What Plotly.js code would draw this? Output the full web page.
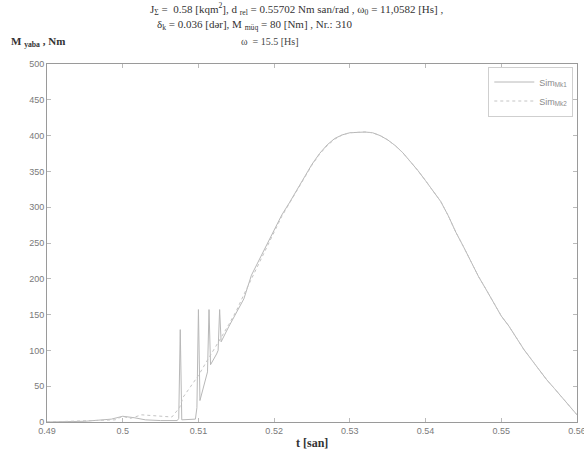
<!DOCTYPE html>
<html><head><meta charset="utf-8">
<script src="https://cdn.plot.ly/plotly-3.0.1.min.js"></script>
<style>html,body{margin:0;padding:0;background:#fff}#chart{width:584px;height:457px}</style>
</head><body><div id="chart"></div>
<script>
// Sim_Mk1 (solid) — time [s] and moment [Nm]
const tMk1 = [0.49,0.495,0.4985,0.5,0.5015,0.503,0.505,0.5072,0.5074,0.5076,0.5078,0.5096,0.5098,0.5100,0.5102,0.5110,0.5112,0.5114,0.5116,0.5124,0.5126,0.5128,0.513,0.514,0.515,0.516,0.517,0.518,0.519,0.520,0.521,0.522,0.523,0.524,0.525,0.526,0.527,0.528,0.529,0.530,0.531,0.532,0.533,0.534,0.535,0.536,0.537,0.538,0.539,0.540,0.541,0.542,0.543,0.544,0.545,0.546,0.547,0.548,0.549,0.550,0.551,0.552,0.553,0.554,0.555,0.556,0.557,0.558,0.559,0.560];
const vMk1 = [0,1,4,8,6,3,2,2,5,129,3,4,20,157,30,60,70,157,80,95,100,157,112,133,152,172,205,226,247,268,289,306,324,343,360,375,387,396,401,404,405,405,404,400,394,386,376,364,351,337,323,308,288,265,245,224,203,185,167,148,134,117,101,87,73,59,47,35,22,10];
// Sim_Mk2 (dashed)
const tMk2 = [0.49,0.499,0.5,0.501,0.5025,0.5045,0.5065,0.5075,0.508,0.509,0.510,0.511,0.512,0.513,0.514,0.515,0.516,0.517,0.518,0.519,0.520,0.521,0.522,0.523,0.524,0.525,0.526,0.527,0.528,0.529,0.530,0.531,0.532,0.533,0.534,0.535,0.536,0.537,0.538,0.539,0.540,0.541,0.542,0.543,0.544,0.545,0.546,0.547,0.548,0.549,0.550,0.551,0.552,0.553,0.554,0.555,0.556,0.557,0.558,0.559,0.560];
const vMk2 = [0,3,8,5,10,9,7,20,35,50,65,83,100,118,136,155,178,200,222,245,266,287,305,323,342,359,374,386,395,401,404,405,405,404,400,394,386,376,364,351,337,323,308,288,265,245,224,203,185,167,148,134,117,101,87,73,59,47,35,22,10];
const seriesNames = ['Sim<sub>Mk1</sub>','Sim<sub>Mk2</sub>'];
const xTicks = [0.49,0.5,0.51,0.52,0.53,0.54,0.55,0.56];
const xTickText = ['0.49','0.5','0.51','0.52','0.53','0.54','0.55','0.56'];
const yTicks = [0,50,100,150,200,250,300,350,400,450,500];

const traces = [
  {x:tMk1,y:vMk1,type:'scatter',mode:'lines',name:seriesNames[0],line:{color:'#b8b8b8',width:1}},
  {x:tMk2,y:vMk2,type:'scatter',mode:'lines',name:seriesNames[1],line:{color:'#c4c4c4',width:1,dash:'dot'}}
];
const axCommon = {showgrid:false,zeroline:false,showline:true,linecolor:'#9a9a9a',linewidth:1,mirror:'ticks',
  ticks:'inside',ticklen:4,tickcolor:'#bbb',tickfont:{family:'Liberation Sans, Arial',size:9,color:'#7a7a7a'}};
const layout = {
  width:584,height:457,paper_bgcolor:'#fff',plot_bgcolor:'#fff',
  margin:{l:47,r:7,t:64,b:35},
  showlegend:true,
  legend:{x:0.993,y:0.993,xanchor:'right',yanchor:'top',bgcolor:'#fff',bordercolor:'#cfcfcf',borderwidth:1,
    font:{family:'Liberation Sans, Arial',size:9,color:'#8a8a8a'},itemwidth:40,tracegroupgap:0},
  xaxis:Object.assign({},axCommon,{range:[0.49,0.5600001],tickmode:'array',tickvals:xTicks,ticktext:xTickText,ticklabeloverflow:'allow'}),
  yaxis:Object.assign({},axCommon,{range:[0,500],tickmode:'array',tickvals:yTicks}),
  annotations:[
    {xref:'paper',yref:'paper',x:0.19,y:1,yshift:55,xanchor:'left',yanchor:'middle',showarrow:false,
     text:'J<sub>Σ</sub> =  0.58 [kqm<sup>2</sup>], d <sub>rel</sub> = 0.55702 Nm san/rad , ω<sub>0</sub> = 11,0582 [Hs] ,',
     font:{family:'Liberation Serif, Times New Roman',size:11,color:'#333'}},
    {xref:'paper',yref:'paper',x:0.204,y:1,yshift:39,xanchor:'left',yanchor:'middle',showarrow:false,
     text:'δ<sub>k</sub> = 0.036 [dər], M <sub>müq</sub> = 80 [Nm] , Nr.: 310',
     font:{family:'Liberation Serif, Times New Roman',size:11,color:'#333'}},
    {xref:'paper',yref:'paper',x:0.421,y:1,yshift:23,xanchor:'center',yanchor:'middle',showarrow:false,
     text:'ω  = 15.5 [Hs]',
     font:{family:'Liberation Serif, Times New Roman',size:10,color:'#444'}},
    {xref:'paper',yref:'paper',x:0,y:1,xshift:-38,yshift:22,xanchor:'left',yanchor:'middle',showarrow:false,
     text:'<b>M <sub>yaba</sub> , Nm</b>',
     font:{family:'Liberation Serif, Times New Roman',size:11,color:'#333'}},
    {xref:'paper',yref:'paper',x:0.5,y:0,yshift:-21,xanchor:'center',yanchor:'middle',showarrow:false,
     text:'<b>t [san]</b>',
     font:{family:'Liberation Serif, Times New Roman',size:12,color:'#333'}}
  ]
};
Plotly.newPlot('chart',traces,layout,{displayModeBar:false,staticPlot:true});
</script></body></html>
